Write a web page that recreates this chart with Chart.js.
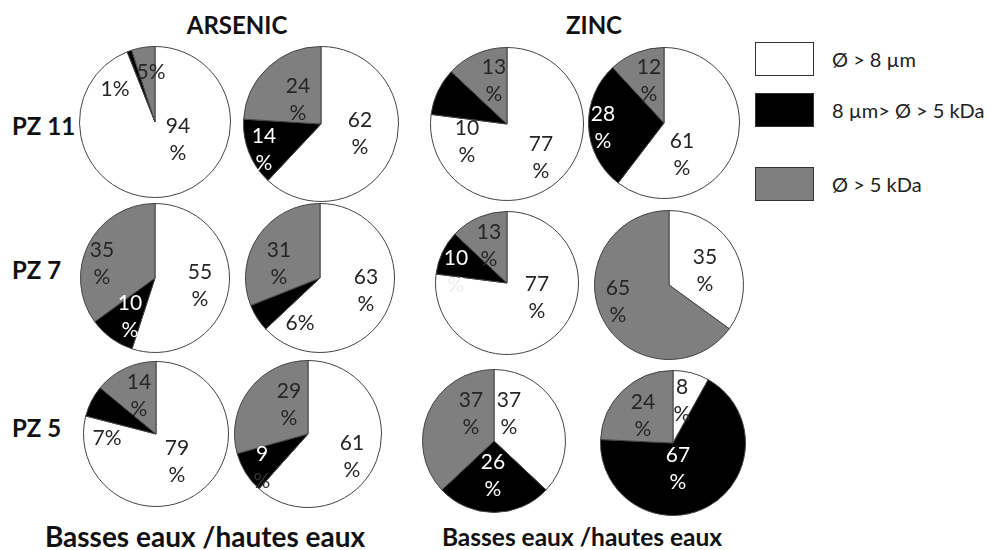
<!DOCTYPE html>
<html>
<head>
<meta charset="utf-8">
<script src="https://cdn.jsdelivr.net/npm/chart.js@4"></script>
<style>
    body { margin: 0; background: #fff; font-family: Lato, sans-serif; }
    #wrap { position: relative; width: 990px; height: 550px; overflow: hidden; }
    canvas { position: absolute; }
    .t { position: absolute; font-weight: bold; color: #111; white-space: nowrap; line-height: 1; transform: translate(-50%, -50%); }
    .row { position: absolute; font-weight: bold; color: #111; white-space: nowrap; line-height: 1; transform: translateY(-50%); font-size: 24px; left: 12px; }
    .box { position: absolute; left: 755px; width: 57px; height: 32px; border: 1px solid #333; }
    .lg { position: absolute; left: 832px; font-size: 20px; color: #222; line-height: 1; transform: translateY(-50%); white-space: nowrap; }
</style>
</head>
<body>
<div id="wrap"></div>
<script>
    const fractions = ['Ø > 8 µm', '8 µm> Ø > 5 kDa', 'Ø > 5 kDa'];
    const sites = ['PZ 11', 'PZ 7', 'PZ 5'];
    const metals = ['ARSENIC', 'ZINC'];
    const seasonLabel = 'Basses eaux /hautes eaux';

    // one entry per site (PZ 11, PZ 7, PZ 5), slices in the order of fractions
    const arsenicBasses = [[94, 1, 5], [55, 10, 35], [79, 7, 14]];
    const arsenicHautes = [[62, 14, 24], [63, 6, 31], [61, 9, 29]];
    const zincBasses = [[77, 10, 13], [77, 10, 13], [37, 26, 37]];
    const zincHautes = [[61, 28, 12], [35, 0, 65], [8, 67, 24]];

    const sliceColors = ['#ffffff', '#000000', '#7f7f7f'];
    const dark = '#262626';

    // pie centre and radius, per row / column
    const pieGeom = [
        [[155, 122, 75], [321, 124, 77], [507, 124, 76], [664, 123, 75]],
        [[155, 278, 74], [320, 278, 74], [507, 283, 71], [669, 285, 74]],
        [[156, 434, 72], [308, 434, 73], [494, 441, 71], [673, 443, 72]]
    ];

    // label offsets from the pie centre: [dx, dy, lines, number colour, "%" colour]
    const labelPos = [
        [
            [[23, 4, 2], [-40, -33, 1], [-4, -50, 1]],
            [[39, -4, 2], [-57, 12, 2], [-23, -38, 2]],
            [[34, 20, 2], [-40, 4, 2, dark, dark], [-13, -57, 2]],
            [[18, 18, 2], [-61, -9, 2], [-15, -56, 2]]
        ],
        [
            [[45, -6, 2], [-25, 25, 2], [-53, -28, 2]],
            [[46, -1, 2], [-20, 45, 1], [-41, -28, 2]],
            [[30, 1, 2], [-51, -25, 2, '#fff', '#ececec'], [-18, -51, 2]],
            [[36, -28, 2], null, [-51, 3, 2]]
        ],
        [
            [[21, 14, 2], [-49, 4, 1], [-17, -52, 2]],
            [[44, 9, 2], [-46, 20, 2, '#fff', '#333'], [-19, -43, 2]],
            [[15, -41, 2], [-1, 21, 2], [-23, -41, 2]],
            [[9, -56, 2], [5, 12, 2], [-30, -41, 2]]
        ]
    ];

    const wrap = document.getElementById('wrap');

    function addText(cls, text, x, y, size) {
        const d = document.createElement('div');
        d.className = cls;
        d.textContent = text;
        d.style.left = x + 'px';
        d.style.top = y + 'px';
        if (size) d.style.fontSize = size + 'px';
        wrap.appendChild(d);
    }

    addText('t', metals[0], 237, 25, 24);
    addText('t', metals[1], 594, 25, 24);
    [126, 270, 428].forEach((y, i) => {
        const d = document.createElement('div');
        d.className = 'row';
        d.textContent = sites[i];
        d.style.top = y + 'px';
        wrap.appendChild(d);
    });
    addText('t', seasonLabel, 205, 536, 28);
    addText('t', seasonLabel, 582, 537, 24.5);

    // legend
    [[42, 59], [93, 110], [167, 184]].forEach(([top, mid], i) => {
        const b = document.createElement('div');
        b.className = 'box';
        b.style.top = top + 'px';
        b.style.background = sliceColors[i];
        wrap.appendChild(b);
        const l = document.createElement('div');
        l.className = 'lg';
        l.textContent = fractions[i];
        l.style.top = mid + 'px';
        wrap.appendChild(l);
    });

    const pctLabels = {
        id: 'pctLabels',
        afterDatasetsDraw(chart, args, opts) {
            const ctx = chart.ctx;
            const arcs = chart.getDatasetMeta(0).data;
            const values = chart.data.datasets[0].data;
            ctx.save();
            ctx.font = '21px Lato';
            ctx.textAlign = 'center';
            ctx.textBaseline = 'middle';
            arcs.forEach((arc, i) => {
                const p = opts.layout[i];
                if (!p || !values[i]) return;
                const [dx, dy, lines, numColor, pctColor] = p;
                const x = arc.x + dx;
                const y = arc.y + dy;
                const main = numColor || ((lines === 1 || i !== 1) ? dark : '#ffffff');
                ctx.fillStyle = main;
                if (lines === 1) {
                    ctx.fillText(values[i] + '%', x, y);
                    return;
                }
                ctx.fillText(String(values[i]), x, y);
                ctx.fillStyle = pctColor || main;
                ctx.fillText('%', x, y + 27);
            });
            ctx.restore();
        }
    };

    const columns = [arsenicBasses, arsenicHautes, zincBasses, zincHautes];

    const createPie = (row, col) => {
        const [cx, cy, r] = pieGeom[row][col];
        const size = 2 * r + 2;
        const canvas = document.createElement('canvas');
        canvas.width = size;
        canvas.height = size;
        canvas.style.left = (cx - r - 1) + 'px';
        canvas.style.top = (cy - r - 1) + 'px';
        canvas.style.width = size + 'px';
        canvas.style.height = size + 'px';
        wrap.appendChild(canvas);

        new Chart(canvas.getContext('2d'), {
            type: 'pie',
            data: {
                labels: fractions,
                datasets: [{
                    data: columns[col][row],
                    backgroundColor: sliceColors,
                    borderColor: '#444',
                    borderWidth: 1
                }]
            },
            options: {
                responsive: false,
                animation: false,
                layout: { padding: 0 },
                plugins: {
                    legend: { display: false },
                    tooltip: { enabled: false },
                    pctLabels: { layout: labelPos[row][col] }
                }
            },
            plugins: [pctLabels]
        });
    };

    for (let row = 0; row < sites.length; row++) {
        for (let col = 0; col < columns.length; col++) {
            createPie(row, col);
        }
    }
</script>
</body>
</html>
